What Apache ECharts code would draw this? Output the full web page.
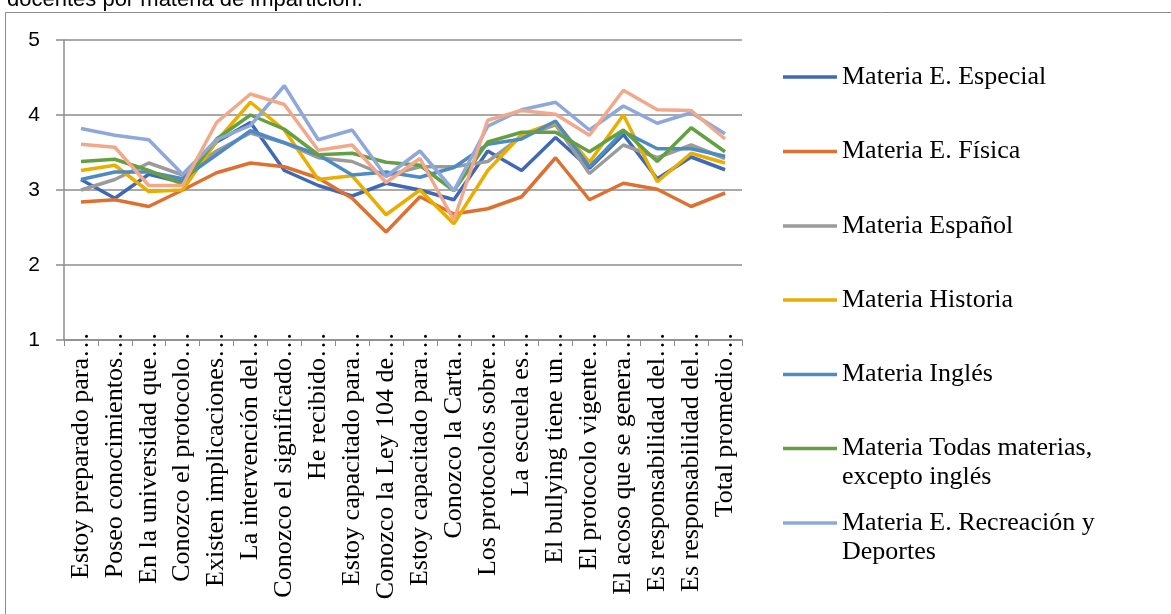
<!DOCTYPE html>
<html>
<head>
<meta charset="utf-8">
<script src="https://cdn.jsdelivr.net/npm/echarts@6/dist/echarts.min.js"></script>
<style>html,body{margin:0;padding:0;background:#fff;}#c{width:1171px;height:614px;}</style>
</head>
<body>
<div id="c"></div>
<script>
const categories = ["Estoy preparado para…","Poseo conocimientos…","En la universidad que…","Conozco el protocolo…","Existen implicaciones…","La intervención del…","Conozco el significado…","He recibido…","Estoy capacitado para…","Conozco la Ley 104 de…","Estoy capacitado para…","Conozco la Carta…","Los protocolos sobre…","La escuela es…","El bullying tiene un…","El protocolo vigente…","El acoso que se genera…","Es responsabilidad del…","Es responsabilidad del…","Total promedio…"];
const yTicks = [1, 5, 1];
const especial   = [3.14,2.89,3.21,3.10,3.64,3.90,3.26,3.06,2.92,3.09,3.00,2.87,3.52,3.26,3.70,3.29,3.74,3.15,3.44,3.27];
const fisica     = [2.84,2.87,2.78,3.00,3.23,3.36,3.31,3.16,2.89,2.44,2.91,2.68,2.75,2.91,3.43,2.87,3.09,3.01,2.78,2.96];
const espanol    = [3.00,3.14,3.36,3.20,3.52,3.76,3.63,3.43,3.38,3.19,3.31,3.31,3.38,3.71,3.87,3.22,3.60,3.43,3.60,3.42];
const historia   = [3.26,3.33,2.98,3.00,3.65,4.17,3.80,3.14,3.19,2.67,3.00,2.55,3.26,3.74,3.90,3.37,4.00,3.11,3.49,3.36];
const ingles     = [3.14,3.24,3.24,3.15,3.47,3.79,3.63,3.47,3.20,3.24,3.17,3.30,3.61,3.68,3.92,3.31,3.78,3.55,3.55,3.45];
const todas      = [3.38,3.41,3.26,3.08,3.68,4.00,3.81,3.47,3.49,3.37,3.33,2.99,3.64,3.77,3.77,3.51,3.80,3.38,3.83,3.51];
const recreacion = [3.82,3.73,3.67,3.21,3.67,3.86,4.39,3.67,3.80,3.18,3.52,2.99,3.85,4.07,4.17,3.80,4.12,3.89,4.03,3.75];
const otra       = [3.61,3.57,3.06,3.06,3.90,4.28,4.14,3.53,3.60,3.10,3.42,2.60,3.93,4.06,4.01,3.73,4.33,4.07,4.06,3.68];

const seriesDefs = [
  {name:"Materia E. Especial", data:especial, color:"#3F68B5", legend:true, two:false},
  {name:"Materia E. Física", data:fisica, color:"#DD7131", legend:true, two:false},
  {name:"Materia Español", data:espanol, color:"#9B9B9B", legend:true, two:false},
  {name:"Materia Historia", data:historia, color:"#E8AE00", legend:true, two:false},
  {name:"Materia Inglés", data:ingles, color:"#4E8BC4", legend:true, two:false},
  {name:"Materia Todas materias, excepto inglés", label:"Materia Todas materias,\nexcepto inglés", data:todas, color:"#64A042", legend:true, two:true},
  {name:"Materia E. Recreación y Deportes", label:"Materia E. Recreación y\nDeportes", data:recreacion, color:"#8FA8DA", legend:true, two:true},
  {name:"Materia (otra)", data:otra, color:"#F2A88B", legend:false, two:false}
];

const LH = 29;
const legendCenters = [77,151.5,226,300,374.5,448.5,523];
const legends = [];
let li = 0;
seriesDefs.forEach(s => {
  if (!s.legend) return;
  const yc = legendCenters[li++];
  const lab = s.two ? ("\n" + s.label) : s.name;
  legends.push({
    left: 783,
    top: s.two ? yc - 1.5*LH : yc - LH/2,
    padding: 0,
    orient: 'vertical',
    icon: 'rect',
    itemWidth: 54,
    itemHeight: 3.5,
    selectedMode: false,
    data: [s.name],
    formatter: () => lab,
    textStyle: {fontFamily: 'Liberation Serif', fontSize: 26, color: '#000', lineHeight: LH}
  });
});

const chart = echarts.init(document.getElementById('c'), null, {renderer: 'canvas'});
chart.setOption({
  animation: false,
  backgroundColor: '#fff',
  graphic: [
    {type:'rect', shape:{x:5.5, y:12.5, width:1300, height:800}, style:{fill:'none', stroke:'#8c8c8c', lineWidth:1}, silent:true},
    {type:'text', left:7, top:-11, style:{text:'docentes por materia de impartición.', fontFamily:'Liberation Sans', fontSize:22, fill:'#000'}}
  ],
  grid: {left:64, top:40, right:429, bottom:274, containLabel:false},
  legend: legends,
  xAxis: {
    type: 'category',
    data: categories,
    boundaryGap: true,
    axisLine: {show:true, lineStyle:{color:'#8c8c8c', width:1.5}},
    axisTick: {show:true, alignWithLabel:false, length:6, lineStyle:{color:'#8c8c8c', width:1}},
    axisLabel: {rotate:90, interval:0, margin:-8, fontFamily:'Liberation Serif', fontSize:26, color:'#000'},
    splitLine: {show:false}
  },
  yAxis: {
    type: 'value',
    min: yTicks[0], max: yTicks[1], interval: yTicks[2],
    axisLine: {show:true, lineStyle:{color:'#8c8c8c', width:1.5}},
    axisTick: {show:true, length:8, lineStyle:{color:'#8c8c8c', width:1.5}},
    axisLabel: {margin:24, fontFamily:'Liberation Sans', fontSize:21, color:'#000'},
    splitLine: {show:true, lineStyle:{color:'#8c8c8c', width:1.5}}
  },
  series: seriesDefs.map(s => ({
    name: s.name,
    type: 'line',
    data: s.data,
    showSymbol: false,
    symbol: 'none',
    color: s.color,
    lineStyle: {color: s.color, width: 3.5},
    itemStyle: {color: s.color}
  }))
});
</script>
</body>
</html>
